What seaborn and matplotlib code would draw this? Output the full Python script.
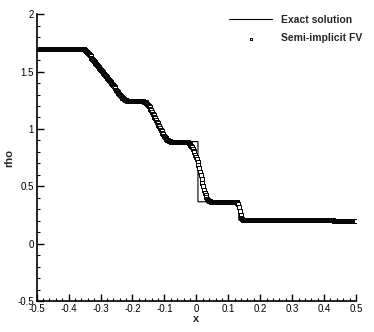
import matplotlib
matplotlib.use("Agg")
import matplotlib.pyplot as plt
import numpy as np
import pandas as pd
import seaborn as sns
from matplotlib.ticker import MultipleLocator, FuncFormatter

# Exact solution (break points)
exact_x = [-0.5, -0.355, -0.33, -0.29, -0.25, -0.228, -0.152, -0.13, -0.11, -0.09,
           0.005, 0.005, 0.133, 0.133, 0.5]
exact_rho = [1.70, 1.70, 1.612, 1.455, 1.315, 1.24, 1.24, 1.118, 1.002, 0.89,
             0.89, 0.365, 0.365, 0.206, 0.206]

# Semi-implicit FV, 400 cells, cell centres from -0.49875 to 0.49875
n_cells = 400
left_state = [1.700] * 56
rarefaction_1 = [
    1.700, 1.699, 1.697, 1.693, 1.688, 1.682, 1.675, 1.667, 1.659, 1.650,
    1.641, 1.632, 1.623, 1.614, 1.605, 1.596, 1.587, 1.578, 1.569, 1.560,
    1.551, 1.542, 1.533, 1.524, 1.515, 1.506, 1.497, 1.488, 1.479, 1.470,
    1.461, 1.452, 1.443, 1.434, 1.425, 1.416, 1.407, 1.398, 1.389, 1.380,
    1.371, 1.362, 1.353, 1.344, 1.335, 1.326, 1.317, 1.308, 1.299, 1.290,
    1.282, 1.274, 1.267, 1.261, 1.256, 1.252, 1.249, 1.246, 1.244, 1.243,
    1.242, 1.241,
]
plateau_1 = [1.240] * 16
rarefaction_2 = [
    1.239, 1.237, 1.234, 1.229, 1.222, 1.213, 1.202, 1.190, 1.176, 1.162,
    1.148, 1.134, 1.120, 1.106, 1.092, 1.078, 1.064, 1.050, 1.036, 1.022,
    1.008, 0.994, 0.980, 0.966, 0.953, 0.941, 0.930, 0.920, 0.912, 0.905,
    0.900, 0.896, 0.893, 0.891,
]
plateau_2 = [0.890] * 16
contact = [
    0.889, 0.889, 0.888, 0.887, 0.885, 0.882, 0.878, 0.872, 0.864, 0.854,
    0.842, 0.828, 0.812, 0.795, 0.776, 0.756, 0.734, 0.710, 0.684, 0.656,
    0.626, 0.595, 0.563, 0.531, 0.500, 0.471, 0.445, 0.422, 0.404, 0.391,
    0.382, 0.376, 0.372, 0.369, 0.367,
]
plateau_3 = [0.366] * 30
shock = [0.365, 0.363, 0.358, 0.345, 0.322, 0.285, 0.248, 0.222, 0.211, 0.207]
plateau_4 = [0.206] * 112
right_state = [0.203, 0.199] + [0.196] * 27

fv_rho = (left_state + rarefaction_1 + plateau_1 + rarefaction_2 + plateau_2
          + contact + plateau_3 + shock + plateau_4 + right_state)
fv_x = -0.5 + (np.arange(n_cells) + 0.5) / n_cells

exact_df = pd.DataFrame({"x": exact_x, "rho": exact_rho})
fv_df = pd.DataFrame({"x": fv_x, "rho": fv_rho})

sns.set_style("ticks")
plt.rcParams["font.family"] = ["Liberation Sans", "DejaVu Sans"]
plt.rcParams["axes.unicode_minus"] = False

fig = plt.figure(figsize=(3.74, 3.32), dpi=100)
ax = fig.add_axes([0.098, 0.0934, 0.854, 0.8636])

sns.lineplot(data=exact_df, x="x", y="rho", sort=False, estimator=None,
             color="black", linewidth=0.8, ax=ax, label="Exact solution")
sns.scatterplot(data=fv_df, x="x", y="rho", marker="s", s=6,
                facecolor="white", edgecolor="black", linewidth=0.7,
                ax=ax, label="Semi-implicit FV", zorder=3)

fmt = FuncFormatter(lambda v, pos: f"{round(v, 2) + 0.0:g}")
ax.set_xlim(-0.5, 0.5)
ax.set_ylim(-0.5, 2)
ax.xaxis.set_major_locator(MultipleLocator(0.1))
ax.xaxis.set_minor_locator(MultipleLocator(0.02))
ax.yaxis.set_major_locator(MultipleLocator(0.5))
ax.yaxis.set_minor_locator(MultipleLocator(0.1))
ax.xaxis.set_major_formatter(fmt)
ax.yaxis.set_major_formatter(fmt)
ax.tick_params(which="both", direction="in", width=1, labelsize=7, colors="black")
ax.tick_params(which="major", length=5, pad=2)
ax.tick_params(which="minor", length=2.5, width=0.8)
for side in ["top", "right"]:
    ax.spines[side].set_visible(False)
for side in ["left", "bottom"]:
    ax.spines[side].set_linewidth(1.2)
    ax.spines[side].set_color("black")

ax.set_xlabel("x", fontsize=8, fontweight="bold", labelpad=0)
ax.set_ylabel("rho", fontsize=8, fontweight="bold", labelpad=2)

leg = ax.legend(loc="upper left", bbox_to_anchor=(0.572, 1.03), frameon=False,
                handlelength=4.2, numpoints=1, markerscale=0.8,
                prop={"size": 7.5, "weight": "bold"}, handletextpad=0.8,
                labelspacing=0.8)

fig.savefig("out.png", dpi=100)
